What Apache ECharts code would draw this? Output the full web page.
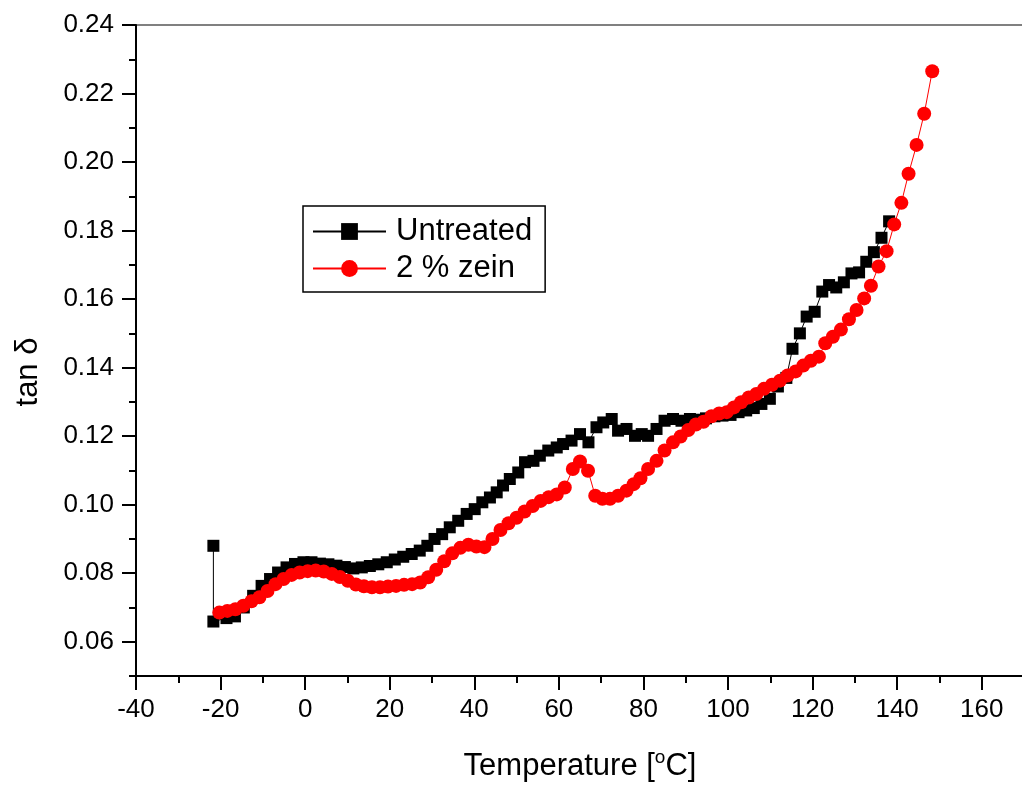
<!DOCTYPE html>
<html>
<head>
<meta charset="utf-8">
<script src="https://cdn.jsdelivr.net/npm/echarts@6/dist/echarts.min.js"></script>
<style>html,body{margin:0;padding:0;background:#fff}#c{width:1022px;height:787px}</style>
</head>
<body>
<div id="c"></div>
<script>
// ---- data (temperature °C, tan δ) ----
const untreated = [
[-21.7,0.0880],[-21.7,0.0659],[-18.6,0.0669],[-16.6,0.0674],[-14.5,0.0700],[-12.3,0.0734],[-10.3,0.0763],
[-8.3,0.0783],[-6.4,0.0802],[-4.4,0.0817],[-2.4,0.0827],[-0.4,0.0832],[1.5,0.0832],[3.5,0.0828],[5.5,0.0826],
[7.4,0.0822],[9.4,0.0818],[11.4,0.0814],[13.4,0.0817],[15.3,0.0821],[17.3,0.0826],[19.3,0.0832],[21.2,0.0840],
[23.2,0.0848],[25.2,0.0856],[27.1,0.0866],[28.9,0.0880],[30.6,0.0900],[32.4,0.0914],[34.2,0.0934],[36.2,0.0953],
[38.2,0.0973],[40.1,0.0987],[41.9,0.1007],[43.7,0.1021],[45.3,0.1036],[46.8,0.1056],[48.4,0.1075],[50.4,0.1094],
[52.0,0.1124],[54.0,0.1128],[55.5,0.1143],[57.5,0.1158],[59.5,0.1167],[61.0,0.1177],[63.0,0.1187],[65.0,0.1206],
[67.0,0.1182],[68.9,0.1226],[70.5,0.1240],[72.5,0.1250],[74.0,0.1216],[76.0,0.1221],[78.0,0.1201],[79.6,0.1206],
[81.1,0.1201],[83.1,0.1221],[85.0,0.1245],[87.0,0.1250],[89.0,0.1245],[91.0,0.1250],[92.9,0.1248],[94.8,0.1252],
[96.8,0.1258],[98.7,0.1260],[100.6,0.1262],[102.5,0.1270],[104.3,0.1275],[106.1,0.1282],[107.9,0.1294],[109.9,0.1309],
[111.8,0.1345],[113.8,0.1370],[115.25,0.1455],[117.0,0.1500],[118.6,0.1549],[120.5,0.1563],[122.3,0.1622],[123.9,0.1641],
[125.6,0.1634],[127.4,0.1649],[129.2,0.1675],[131.0,0.1678],[132.7,0.1709],[134.5,0.1737],[136.3,0.1779],[138.1,0.1827]
];
const zein2 = [
[-20.3,0.0685],[-18.4,0.0690],[-16.5,0.0695],[-14.6,0.0705],[-12.7,0.0718],[-10.8,0.0730],[-8.9,0.0748],[-7.0,0.0768],
[-5.1,0.0783],[-3.2,0.0795],[-1.3,0.0802],[0.6,0.0806],[2.5,0.0808],[4.4,0.0805],[6.3,0.0798],[8.2,0.0789],[10.1,0.0778],
[12.0,0.0767],[13.9,0.0762],[15.8,0.0759],[17.7,0.0759],[19.6,0.0761],[21.5,0.0763],[23.4,0.0766],[25.3,0.0768],[27.2,0.0773],
[29.1,0.0788],[31.0,0.0810],[32.9,0.0835],[34.8,0.0858],[36.7,0.0874],[38.6,0.0883],[40.5,0.0878],[42.4,0.0876],[44.3,0.0900],
[46.2,0.0926],[48.1,0.0946],[50.0,0.0962],[51.9,0.0980],[53.8,0.0996],[55.7,0.1011],[57.6,0.1022],[59.5,0.1030],[61.4,0.1050],
[63.3,0.1104],[65.0,0.1126],[66.9,0.1099],[68.6,0.1026],[70.3,0.1017],[72.1,0.1017],[74.0,0.1026],[76.0,0.1041],[77.7,0.1060],
[79.3,0.1077],[81.1,0.1104],[83.1,0.1128],[85.0,0.1158],[87.0,0.1182],[88.8,0.1199],[90.6,0.1218],[92.4,0.1234],[94.2,0.1242],
[96.1,0.1258],[97.9,0.1266],[99.7,0.1270],[101.4,0.1284],[103.1,0.1299],[104.9,0.1313],[106.7,0.1323],[108.5,0.1338],[110.4,0.1350],
[112.3,0.1362],[114.1,0.1377],[116.0,0.1389],[117.8,0.1406],[119.6,0.1420],[121.5,0.1432],[123.0,0.1471],[124.8,0.1490],[126.7,0.1511],
[128.6,0.1541],[130.4,0.1568],[132.2,0.1602],[133.8,0.1639],[135.6,0.1695],[137.5,0.1740],[139.3,0.1818],[141.0,0.1881],[142.7,0.1966],
[144.6,0.2050],[146.4,0.2141],[148.3,0.2265]
];
const seriesNames = ['Untreated', '2 % zein'];
const xMajorTicks = [-40,-20,0,20,40,60,80,100,120,140,160];
const xMinorTicks = [-30,-10,10,30,50,70,90,110,130,150];
const yMajorTicks = [0.06,0.08,0.10,0.12,0.14,0.16,0.18,0.20,0.22,0.24];
const yMinorTicks = [0.05,0.07,0.09,0.11,0.13,0.15,0.17,0.19,0.21,0.23];

const FONT = "'Liberation Sans', Arial, sans-serif";
const chart = echarts.init(document.getElementById('c'), null, {renderer:'canvas'});
const gridRect = {left:136, top:25, width:888, height:651};
const axisLineStyle = {color:'#000', width:2};

chart.setOption({
  animation:false,
  backgroundColor:'#fff',
  grid: Object.assign({show:true, borderColor:'#808080', borderWidth:2, backgroundColor:'transparent',
    containLabel:false, outerBoundsMode:'none'}, gridRect),
  legend: {
    orient:'vertical', left:303, top:206,
    data: seriesNames,
    backgroundColor:'#fff', borderColor:'#000', borderWidth:1.5, borderRadius:0,
    padding:[10,13,8,9], itemGap:6, itemWidth:73, itemHeight:21,
    textStyle:{fontFamily:FONT, fontSize:31, color:'#000', padding:[0,0,0,5]}
  },
  xAxis: [{
    type:'value', min:-40, max:170, interval:20, position:'bottom',
    axisLine:{show:true, onZero:false, lineStyle:axisLineStyle},
    axisTick:{show:true, inside:false, length:14, lineStyle:{color:'#000', width:2}, customValues:xMajorTicks},
    axisLabel:{show:true, margin:21, fontFamily:FONT, fontSize:26, color:'#000', customValues:xMajorTicks},
    splitLine:{show:false},
    name:'{a|Temperature [}{s|o}{a|C]}', nameLocation:'middle', nameGap:72,
    nameTextStyle:{rich:{
      a:{fontFamily:FONT, fontSize:31, color:'#000', lineHeight:36},
      s:{fontFamily:FONT, fontSize:19, color:'#000', verticalAlign:'top', lineHeight:36, padding:[0,0,14,0]}
    }}
  },{
    type:'value', min:-40, max:170, interval:10, position:'bottom',
    axisLine:{show:false, onZero:false},
    axisTick:{show:true, inside:false, length:7, lineStyle:{color:'#000', width:2}, customValues:xMinorTicks},
    axisLabel:{show:false}, splitLine:{show:false}
  }],
  yAxis: [{
    type:'value', min:0.05, max:0.24, position:'left',
    axisLine:{show:true, onZero:false, lineStyle:axisLineStyle},
    axisTick:{show:true, inside:false, length:14, lineStyle:{color:'#000', width:2}, customValues:yMajorTicks},
    axisLabel:{show:true, margin:22, fontFamily:FONT, fontSize:26, color:'#000', customValues:yMajorTicks,
      formatter:v=>v.toFixed(2)},
    splitLine:{show:false}
  },{
    type:'value', min:0.05, max:0.24, position:'left',
    axisLine:{show:false, onZero:false},
    axisTick:{show:true, inside:false, length:7, lineStyle:{color:'#000', width:2}, customValues:yMinorTicks},
    axisLabel:{show:false}, splitLine:{show:false}
  }],
  graphic: [{
    type:'text', x:28, y:372, rotation:Math.PI/2,
    style:{text:'tan δ', fontFamily:FONT, fontSize:31, fill:'#000', align:'center', verticalAlign:'middle'}
  }],
  series: [{
    name:seriesNames[0], type:'line', data:untreated,
    symbol:'rect', symbolSize:12, showAllSymbol:true,
    itemStyle:{color:'#000'}, lineStyle:{color:'#000', width:1},
    z:2
  },{
    name:seriesNames[1], type:'line', data:zein2,
    symbol:'circle', symbolSize:14, showAllSymbol:true,
    itemStyle:{color:'#ff0000'}, lineStyle:{color:'#ff0000', width:1},
    z:3
  }]
});
</script>
</body>
</html>
